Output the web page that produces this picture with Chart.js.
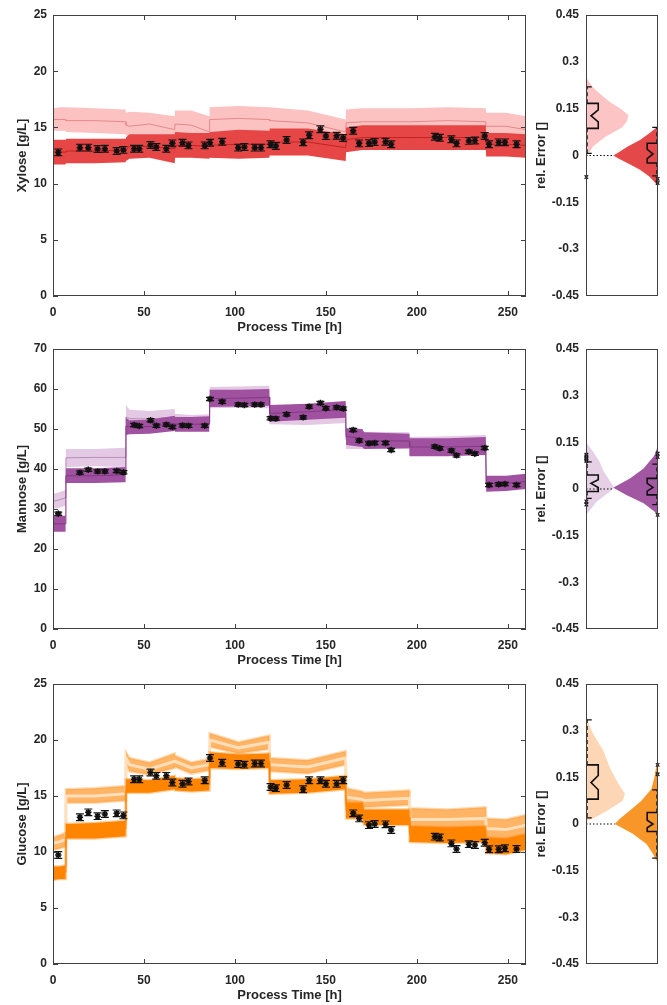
<!DOCTYPE html>
<html>
<head>
<title>Xylose / Mannose / Glucose</title>
<script src="https://cdn.jsdelivr.net/npm/chart.js"></script>
<style>
  body { margin: 0; background: #fff; }
  canvas { position: absolute; }
</style>
</head>
<body>
<canvas id="xylMain" width="540" height="340" style="left:0;top:0"></canvas>
<canvas id="xylSide" width="137" height="340" style="left:530px;top:0"></canvas>
<canvas id="manMain" width="540" height="340" style="left:0;top:334px"></canvas>
<canvas id="manSide" width="137" height="340" style="left:530px;top:334px"></canvas>
<canvas id="gluMain" width="540" height="336" style="left:0;top:669px"></canvas>
<canvas id="gluSide" width="137" height="336" style="left:530px;top:669px"></canvas>

<script>
// sampling times of the offline measurements [h]
const sampleTime = [2.9, 14.8, 19.4, 24.5, 28.5, 35, 38.7, 44.6, 47.4, 53.6, 56.8, 62.3, 65.6, 71.2, 74.5, 83.4, 86.3, 93, 101.8, 105.2, 110.9, 114.3, 119.6, 122.5, 128.4, 137.5, 140.8, 147, 150, 155.9, 159.5, 165, 168.3, 173.7, 176.8, 182.8, 185.9, 209.9, 212.6, 219, 221.8, 228.6, 231.9, 237.3, 239.7, 245, 248.4, 254.8];

const xyloseMeas = [12.78, 13.2, 13.2, 13.08, 13.1, 12.9, 13.0, 13.1, 13.1, 13.43, 13.26, 13.1, 13.58, 13.64, 13.4, 13.4, 13.64, 13.73, 13.2, 13.25, 13.2, 13.2, 13.5, 13.35, 13.88, 13.67, 14.3, 14.83, 14.23, 14.25, 14.06, 14.7, 13.58, 13.6, 13.7, 13.73, 13.5, 14.17, 14.08, 13.94, 13.58, 13.8, 13.83, 14.23, 13.5, 13.67, 13.67, 13.5];
const mannoseMeas = [28.8, 39.1, 39.8, 39.4, 39.4, 39.5, 39.2, 51.0, 50.75, 52.2, 50.8, 51.1, 50.5, 50.9, 50.8, 50.8, 57.5, 56.8, 56.1, 56.0, 56.1, 56.1, 52.7, 52.6, 53.7, 52.9, 55.6, 56.5, 55.2, 55.4, 55.1, 49.75, 47.1, 46.4, 46.5, 46.5, 44.75, 45.6, 45.2, 44.6, 43.4, 44.3, 43.8, 45.25, 36.0, 36.2, 36.25, 36.0];
const glucoseMeas = [9.73, 13.1, 13.54, 13.2, 13.4, 13.45, 13.27, 16.5, 16.5, 17.1, 16.8, 16.8, 16.2, 16.1, 16.3, 16.4, 18.4, 17.97, 17.86, 17.8, 17.9, 17.9, 15.8, 15.7, 15.98, 15.6, 16.4, 16.4, 16.1, 16.1, 16.4, 13.45, 13.0, 12.4, 12.5, 12.47, 11.96, 11.37, 11.3, 10.77, 10.27, 10.7, 10.63, 10.83, 10.24, 10.24, 10.33, 10.27];
const xyloseErr = 0.3, mannoseErr = 0.4, glucoseErr = 0.3;

// time grid of the estimation bands [h]
const bandTime = [0, 3.5, 6.9, 7.1, 23, 39.9, 40.1, 42, 53, 66.9, 67.1, 76, 85.9, 86.1, 102, 118.9, 119.1, 140, 160.9, 161.1, 170, 171, 195.9, 196.1, 217, 237.9, 238.1, 249, 260];

const xyloseLightLo  = [14.7,14.7,14.7,14.6,14.5,14.4,14.3,14.1,14.2,13.8,14.3,14.3,13.6,14.6,14.7,14.6,14.5,14.4,13.5,14.2,14.3,14.3,14.3,14.3,14.3,14.3,13.9,13.9,13.7];
const xyloseLightMid = [15.7,15.7,15.7,15.6,15.6,15.5,15.2,15.1,15.3,14.8,15.3,15.2,14.6,15.7,15.8,15.7,15.6,15.4,14.6,15.4,15.5,15.5,15.5,15.5,15.6,15.5,15.1,15.1,14.8];
const xyloseLightHi  = [16.7,16.8,16.8,16.8,16.7,16.6,16.3,16.4,16.3,16.0,16.5,16.5,16.0,16.8,16.9,16.8,16.8,16.5,15.7,16.6,16.7,16.7,16.7,16.7,16.8,16.7,16.3,16.3,16.0];
const xyloseDarkLo   = [11.7,11.7,11.7,11.8,11.8,11.9,12.0,12.2,12.3,11.8,12.3,12.3,12.2,12.3,12.2,12.3,12.5,12.5,12.0,12.8,13.0,13.0,13.0,13.0,13.0,13.0,12.4,12.4,12.3];
const xyloseDarkMid  = [12.8,12.8,12.8,12.9,12.9,13.0,13.0,13.3,13.3,13.1,13.4,13.4,13.3,13.4,13.5,13.5,13.7,13.7,13.2,13.9,14.1,14.1,14.1,14.1,14.1,14.1,13.5,13.5,13.4];
const xyloseDarkHi   = [13.9,13.9,13.9,14.0,14.0,14.0,14.1,14.4,14.4,14.4,14.6,14.5,14.5,14.6,14.8,14.7,14.9,14.9,14.4,15.0,15.2,15.2,15.2,15.2,15.2,15.2,14.5,14.5,14.4];

const mannoseLightLo  = [30.0,30.3,30.8,40.5,40.7,40.5,50.0,50.5,50.5,51.0,50.0,50.0,50.0,55.2,55.3,55.2,51.2,51.0,51.5,45.0,45.0,45.0,45.0,43.8,44.0,44.2,35.0,35.2,35.5];
const mannoseLightMid = [31.9,32.3,32.8,42.8,42.9,42.9,53.0,52.6,52.5,53.0,51.9,51.8,51.8,57.9,58.0,58.0,53.6,53.5,54.0,47.3,47.2,47.2,47.1,45.9,46.1,46.4,36.5,36.6,37.0];
const mannoseLightHi  = [33.8,34.2,34.8,45.0,45.0,45.3,56.0,54.8,54.5,55.0,53.8,53.5,53.7,60.5,60.6,60.8,56.0,56.0,56.5,49.5,49.3,49.3,49.2,48.0,48.2,48.5,38.0,38.0,38.5];
const mannoseDarkLo   = [24.3,24.3,24.3,36.5,36.5,36.7,48.5,48.7,48.8,49.5,49.3,49.3,49.3,55.5,55.6,55.8,51.8,52.3,52.8,46.0,45.5,45.0,45.2,43.2,43.2,43.5,34.3,34.5,35.0];
const mannoseDarkMid  = [26.3,26.3,26.3,38.3,38.3,38.6,50.7,50.5,50.6,51.4,51.2,51.2,51.2,57.6,57.7,57.9,53.9,54.3,54.9,48.1,47.7,47.1,47.0,45.5,45.5,45.7,36.3,36.4,36.9];
const mannoseDarkHi   = [28.3,28.3,28.3,40.2,40.2,40.5,52.8,52.2,52.3,53.3,53.0,53.0,53.2,59.8,59.8,60.0,56.0,56.3,57.0,50.2,50.0,49.2,48.8,47.7,47.7,48.0,38.3,38.3,38.8];

const glucoseLightLo  = [10.2,10.3,10.5,14.4,14.4,14.6,17.9,17.2,16.9,17.5,17.6,17.0,17.3,19.4,18.8,19.2,17.2,17.0,17.8,14.2,14.0,14.0,14.2,11.9,11.9,12.1,11.2,11.1,11.6];
const glucoseLightMid = [10.8,10.9,11.1,15.0,15.0,15.2,18.4,17.8,17.4,18.1,18.1,17.5,17.8,20.0,19.3,19.8,17.8,17.6,18.4,14.9,14.7,14.6,14.8,12.9,12.9,13.0,12.1,12.0,12.4];
const glucoseLightHi  = [11.3,11.5,11.7,15.6,15.7,15.9,18.9,18.4,18.0,18.8,18.6,18.0,18.3,20.6,19.8,20.4,18.4,18.2,19.0,15.7,15.4,15.3,15.5,13.9,13.8,14.0,13.0,12.9,13.3];
const glucoseDarkLo   = [7.5,7.6,7.6,11.2,11.2,11.4,15.3,15.3,15.3,15.6,15.5,15.4,15.5,17.5,17.4,17.5,15.2,15.3,15.6,13.0,13.0,12.4,12.4,10.9,10.8,10.9,9.9,9.8,10.2];
const glucoseDarkMid  = [8.1,8.1,8.2,11.8,11.9,12.1,15.9,15.9,15.8,16.2,16.0,15.9,16.0,18.2,18.0,18.1,15.8,15.9,16.2,13.7,13.7,13.1,13.1,11.6,11.5,11.6,10.6,10.5,10.9];
const glucoseDarkHi   = [8.7,8.7,8.8,12.5,12.6,12.8,16.5,16.5,16.4,16.8,16.6,16.5,16.6,18.9,18.7,18.8,16.4,16.5,16.8,14.4,14.4,13.8,13.8,12.3,12.2,12.3,11.3,11.2,11.6];

const timeTicks = [0, 50, 100, 150, 200, 250];
const errTicks = [-0.45, -0.3, -0.15, 0, 0.15, 0.3, 0.45];

// violins: [rel. error, width as fraction of panel]
const xyloseLightViolin = [[-0.01,0],[0.005,0.03],[0.03,0.1],[0.06,0.27],[0.09,0.5],[0.11,0.57],[0.13,0.59],[0.15,0.48],[0.17,0.34],[0.2,0.18],[0.22,0.09],[0.24,0.03],[0.255,0]];
const xyloseDarkViolin  = [[-0.1,0],[-0.09,0.03],[-0.067,0.12],[-0.046,0.25],[-0.025,0.42],[-0.01,0.55],[0,0.62],[0.01,0.55],[0.029,0.42],[0.05,0.25],[0.071,0.12],[0.09,0.02],[0.095,0]];
const mannoseLightViolin = [[-0.083,0],[-0.067,0.06],[-0.04,0.15],[-0.019,0.27],[0.004,0.39],[0.023,0.34],[0.055,0.25],[0.087,0.19],[0.12,0.1],[0.15,0]];
const mannoseDarkViolin  = [[-0.088,0],[-0.072,0.05],[-0.046,0.2],[-0.019,0.44],[0.004,0.62],[0.007,0.6],[0.034,0.39],[0.066,0.2],[0.108,0.05],[0.14,0]];
const glucoseLightViolin = [[0.01,0],[0.017,0.09],[0.043,0.3],[0.075,0.51],[0.097,0.54],[0.129,0.45],[0.182,0.33],[0.236,0.24],[0.289,0.1],[0.332,0.02],[0.34,0]];
const glucoseDarkViolin  = [[-0.125,0],[-0.118,0.02],[-0.096,0.07],[-0.064,0.16],[-0.031,0.35],[0,0.6],[0.017,0.53],[0.043,0.39],[0.075,0.23],[0.113,0.09],[0.15,0.05],[0.19,0.02],[0.2,0]];

// boxes: [whisker lo, q1, notch lo, median, notch hi, q3, whisker hi]
const xyloseLightBox  = [0.007, 0.087, 0.108, 0.127, 0.146, 0.167, 0.22];
const xyloseDarkBox   = [-0.065, -0.024, -0.01, 0.005, 0.02, 0.039, 0.09];
const mannoseLightBox = [-0.03, -0.008, 0.005, 0.018, 0.03, 0.045, 0.087];
const mannoseDarkBox  = [-0.05, -0.019, -0.007, 0.005, 0.018, 0.034, 0.08];
const glucoseLightBox = [0.02, 0.08, 0.11, 0.133, 0.156, 0.19, 0.335];
const glucoseDarkBox  = [-0.11, -0.024, -0.012, 0.0, 0.012, 0.037, 0.11];
const xyloseLightOut  = [-0.069];
const xyloseDarkOut   = [-0.075, -0.088];
const mannoseLightOut = [0.09, 0.095, 0.1, 0.105, 0.11, -0.04, -0.05];
const mannoseDarkOut  = [0.103, 0.114, -0.083];
const glucoseLightOut = [];
const glucoseDarkOut  = [0.16, 0.19];

Chart.defaults.font.family = "'Liberation Sans', Arial, sans-serif";
Chart.defaults.font.weight = 'bold';
Chart.defaults.color = '#262626';

function pts(xs, ys) { return xs.map((x, i) => ({ x: x, y: ys[i] })); }

// box outline and inward ticks like a matlab axes
const framePlugin = {
  id: 'frame',
  afterDraw(chart, args, opts) {
    const { ctx, chartArea: a } = chart;
    ctx.save();
    ctx.strokeStyle = '#404040';
    ctx.lineWidth = 1;
    ctx.strokeRect(a.left + 0.5, a.top + 0.5, a.width - 1, a.height - 1);
    if (opts.ticks) {
      const xs = chart.scales.x, ys = chart.scales.y;
      ctx.beginPath();
      xs.ticks.forEach(t => {
        const px = Math.round(xs.getPixelForValue(t.value)) + 0.5;
        ctx.moveTo(px, a.bottom); ctx.lineTo(px, a.bottom - 5);
        ctx.moveTo(px, a.top); ctx.lineTo(px, a.top + 5);
      });
      ys.ticks.forEach(t => {
        const py = Math.round(ys.getPixelForValue(t.value)) + 0.5;
        ctx.moveTo(a.left, py); ctx.lineTo(a.left + 5, py);
        ctx.moveTo(a.right, py); ctx.lineTo(a.right - 5, py);
      });
      ctx.stroke();
    }
    ctx.restore();
  }
};

const errorBars = {
  id: 'errorBars',
  afterDatasetsDraw(chart) {
    const { ctx, scales: { x, y } } = chart;
    chart.data.datasets.forEach(ds => {
      if (!ds.errBar) return;
      ctx.save();
      ctx.strokeStyle = '#111';
      ctx.lineWidth = 1.2;
      ctx.beginPath();
      ds.data.forEach(p => {
        const px = x.getPixelForValue(p.x);
        const y1 = y.getPixelForValue(p.y - ds.errBar), y2 = y.getPixelForValue(p.y + ds.errBar);
        ctx.moveTo(px, y1); ctx.lineTo(px, y2);
        ctx.moveTo(px - 4, y1); ctx.lineTo(px + 4, y1);
        ctx.moveTo(px - 4, y2); ctx.lineTo(px + 4, y2);
      });
      ctx.stroke();
      ctx.restore();
    });
  }
};

const noGrid = { display: false, drawTicks: false, tickLength: 0 };

function mainChart(id, o) {
  const flat = { pointRadius: 0, fill: false };
  return new Chart(document.getElementById(id), {
    type: 'line',
    data: {
      datasets: [
        { data: pts(sampleTime, o.meas), showLine: false, pointStyle: 'star', pointRadius: 3.2,
          pointBorderWidth: 1.5, pointBorderColor: '#111', pointBackgroundColor: '#111', errBar: o.err, order: 0 },
        Object.assign({ data: pts(bandTime, o.darkMid), borderColor: o.darkLine, borderWidth: 1, order: 1 }, flat),
        Object.assign({ data: pts(bandTime, o.darkLo), borderColor: o.darkEdge, borderWidth: 2.5, order: 2 }, flat),
        Object.assign({}, flat, { data: pts(bandTime, o.darkHi), borderColor: o.darkEdge, borderWidth: 2.5,
          fill: 2, backgroundColor: o.darkFill, order: 2 }),
        Object.assign({ data: pts(bandTime, o.lightMid), borderColor: o.lightLine, borderWidth: o.lightLineW, order: 3 }, flat),
        Object.assign({ data: pts(bandTime, o.lightLo), borderColor: o.lightEdge, borderWidth: 2.5, order: 4 }, flat),
        Object.assign({}, flat, { data: pts(bandTime, o.lightHi), borderColor: o.lightEdge, borderWidth: 2.5,
          fill: 5, backgroundColor: o.lightFill, order: 4 })
      ]
    },
    plugins: [framePlugin, errorBars],
    options: {
      responsive: false, animation: false, devicePixelRatio: 1,
      layout: { padding: { top: 15, right: 14, left: 0, bottom: 0 } },
      elements: { line: { tension: 0 } },
      plugins: { legend: { display: false }, tooltip: { enabled: false }, frame: { ticks: true } },
      scales: {
        x: {
          type: 'linear', min: 0, max: 260,
          grid: noGrid, border: { display: false },
          afterBuildTicks: s => { s.ticks = timeTicks.map(v => ({ value: v })); },
          afterFit: s => { s.height = o.xH; },
          ticks: { font: { size: 12, weight: 'bold' }, padding: 9, maxRotation: 0 },
          title: { display: true, text: 'Process Time [h]', font: { size: 13, weight: 'bold' },
                   padding: { top: 0, bottom: o.xTitlePad } }
        },
        y: {
          min: 0, max: o.yMax,
          grid: noGrid, border: { display: false },
          afterBuildTicks: s => { s.ticks = o.yTicks.map(v => ({ value: v })); },
          afterFit: s => { s.width = 53; },
          ticks: { font: { size: 12, weight: 'bold' }, padding: 6 },
          title: { display: true, text: o.yTitle, font: { size: 13, weight: 'bold' }, padding: { top: 15, bottom: 0 } }
        }
      }
    }
  });
}

function boxOutline(b, x0, dir, bw, nw) {
  const X = v => x0 + dir * v;
  return [{ x: X(0), y: b[5] }, { x: X(bw), y: b[5] }, { x: X(bw), y: b[4] }, { x: X(nw), y: b[3] },
          { x: X(bw), y: b[2] }, { x: X(bw), y: b[1] }, { x: X(0), y: b[1] }];
}

function sideChart(id, o) {
  const tipX = 1 - Math.max(...o.darkViolin.map(p => p[1]));
  const line = { pointRadius: 0, fill: false, clip: false, borderColor: '#111' };
  const wl = 0.015, wr = 0.985;
  return new Chart(document.getElementById(id), {
    type: 'line',
    data: {
      datasets: [
        { data: o.lightOut.map(v => ({ x: 0.005, y: v })), showLine: false, pointStyle: 'crossRot', pointRadius: 2.5,
          pointBorderWidth: 1.2, pointBorderColor: '#111', clip: false, order: 0 },
        { data: o.darkOut.map(v => ({ x: 0.995, y: v })), showLine: false, pointStyle: 'crossRot', pointRadius: 2.5,
          pointBorderWidth: 1.2, pointBorderColor: '#111', clip: false, order: 0 },
        Object.assign({ data: boxOutline(o.lightBox, 0, 1, 0.17, 0.07), borderWidth: 1.6, order: 1 }, line),
        Object.assign({ data: boxOutline(o.darkBox, 1, -1, 0.15, 0.07), borderWidth: 1.6, order: 1 }, line),
        Object.assign({ data: [{ x: wl, y: o.lightBox[5] }, { x: wl, y: o.lightBox[6] }, { x: wl, y: null },
                               { x: wl, y: o.lightBox[1] }, { x: wl, y: o.lightBox[0] }],
                        borderWidth: 1.3, borderDash: [4, 3], order: 1 }, line),
        Object.assign({ data: [{ x: wr, y: o.darkBox[5] }, { x: wr, y: o.darkBox[6] }, { x: wr, y: null },
                               { x: wr, y: o.darkBox[1] }, { x: wr, y: o.darkBox[0] }],
                        borderWidth: 1.3, borderDash: [4, 3], order: 1 }, line),
        Object.assign({ data: [{ x: 0, y: o.lightBox[6] }, { x: 0.08, y: o.lightBox[6] }, { x: 0, y: null },
                               { x: 0, y: o.lightBox[0] }, { x: 0.08, y: o.lightBox[0] }],
                        borderWidth: 1.3, order: 1 }, line),
        Object.assign({ data: [{ x: 1, y: o.darkBox[6] }, { x: 0.92, y: o.darkBox[6] }, { x: 1, y: null },
                               { x: 1, y: o.darkBox[0] }, { x: 0.92, y: o.darkBox[0] }],
                        borderWidth: 1.3, order: 1 }, line),
        Object.assign({ data: [{ x: 0, y: 0 }, { x: tipX, y: 0 }], borderWidth: 1.2, borderDash: [1.5, 2], order: 2 }, line),
        { data: o.darkViolin.map(p => ({ x: 1 - p[1], y: p[0] })), fill: 'shape', backgroundColor: o.darkFill,
          borderColor: 'transparent', borderWidth: 0.01, pointRadius: 0, order: 4 },
        { data: o.lightViolin.map(p => ({ x: p[1], y: p[0] })), fill: 'shape', backgroundColor: o.lightFill,
          borderColor: 'transparent', borderWidth: 0.01, pointRadius: 0, order: 5 }
      ]
    },
    plugins: [framePlugin],
    options: {
      responsive: false, animation: false, devicePixelRatio: 1,
      layout: { padding: { top: 15, right: 9, left: 0, bottom: o.bottomPad } },
      elements: { line: { tension: 0 } },
      plugins: { legend: { display: false }, tooltip: { enabled: false }, frame: { ticks: false } },
      scales: {
        x: { type: 'linear', min: 0, max: 1, display: false },
        y: {
          min: -0.45, max: 0.45,
          grid: noGrid, border: { display: false },
          afterBuildTicks: s => { s.ticks = errTicks.map(v => ({ value: v })); },
          afterFit: s => { s.width = 56; },
          ticks: { font: { size: 12, weight: 'bold' }, padding: 7, callback: v => String(+(+v).toFixed(2)) },
          title: { display: true, text: 'rel. Error []', font: { size: 13, weight: 'bold' }, padding: { top: 4, bottom: 0 } }
        }
      }
    }
  });
}

mainChart('xylMain', {
  meas: xyloseMeas, err: xyloseErr, yMax: 25, yTicks: [0, 5, 10, 15, 20, 25], yTitle: 'Xylose [g/L]',
  lightLo: xyloseLightLo, lightMid: xyloseLightMid, lightHi: xyloseLightHi,
  darkLo: xyloseDarkLo, darkMid: xyloseDarkMid, darkHi: xyloseDarkHi,
  lightFill: '#fcc2c2', lightLine: '#e88888', lightLineW: 1, lightEdge: 'transparent',
  darkFill: '#e64646', darkLine: '#c22424', darkEdge: 'transparent',
  xH: 44, xTitlePad: 5
});
mainChart('manMain', {
  meas: mannoseMeas, err: mannoseErr, yMax: 70, yTicks: [0, 10, 20, 30, 40, 50, 60, 70], yTitle: 'Mannose [g/L]',
  lightLo: mannoseLightLo, lightMid: mannoseLightMid, lightHi: mannoseLightHi,
  darkLo: mannoseDarkLo, darkMid: mannoseDarkMid, darkHi: mannoseDarkHi,
  lightFill: '#e3c9e3', lightLine: '#b98cb9', lightLineW: 1, lightEdge: 'transparent',
  darkFill: '#a052a0', darkLine: '#843884', darkEdge: 'transparent',
  xH: 45, xTitlePad: 6
});
mainChart('gluMain', {
  meas: glucoseMeas, err: glucoseErr, yMax: 25, yTicks: [0, 5, 10, 15, 20, 25], yTitle: 'Glucose [g/L]',
  lightLo: glucoseLightLo, lightMid: glucoseLightMid, lightHi: glucoseLightHi,
  darkLo: glucoseDarkLo, darkMid: glucoseDarkMid, darkHi: glucoseDarkHi,
  lightFill: '#ffb466', lightLine: 'rgba(255,232,208,0.8)', lightLineW: 3, lightEdge: 'rgba(255,160,60,0.4)',
  darkFill: '#ff8400', darkLine: '#ff8400', darkEdge: 'rgba(255,132,0,0.4)',
  xH: 41, xTitlePad: 2
});

sideChart('xylSide', {
  lightViolin: xyloseLightViolin, darkViolin: xyloseDarkViolin, lightBox: xyloseLightBox, darkBox: xyloseDarkBox,
  lightOut: xyloseLightOut, darkOut: xyloseDarkOut, lightFill: '#fcc4c4', darkFill: '#e54848', bottomPad: 44
});
sideChart('manSide', {
  lightViolin: mannoseLightViolin, darkViolin: mannoseDarkViolin, lightBox: mannoseLightBox, darkBox: mannoseDarkBox,
  lightOut: mannoseLightOut, darkOut: mannoseDarkOut, lightFill: '#e5d0e5', darkFill: '#a257a2', bottomPad: 45
});
sideChart('gluSide', {
  lightViolin: glucoseLightViolin, darkViolin: glucoseDarkViolin, lightBox: glucoseLightBox, darkBox: glucoseDarkBox,
  lightOut: glucoseLightOut, darkOut: glucoseDarkOut, lightFill: '#fdd6b5', darkFill: '#f9962a', bottomPad: 41
});
</script>
</body>
</html>
